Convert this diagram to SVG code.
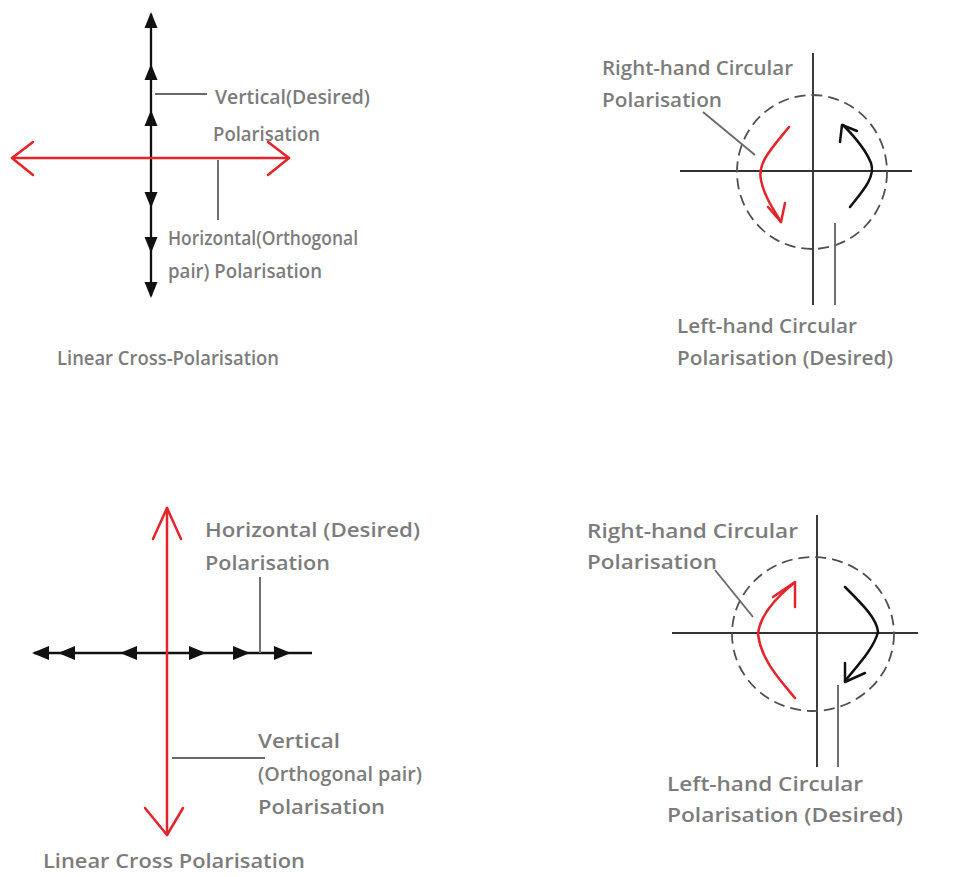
<svg xmlns="http://www.w3.org/2000/svg" xmlns:xlink="http://www.w3.org/1999/xlink" width="963" height="877" viewBox="0 0 963 877">
<style>
.lbl{font-family:"Open Sans","Noto Sans","Liberation Sans",sans-serif;font-weight:600;font-size:20.5px;fill:#7c7c7c}
.axis{stroke:#333;stroke-width:1.9;fill:none}
.lead{stroke:#6a6a6a;stroke-width:1.9;fill:none}
.red{stroke:#e3242b;stroke-width:2.5;fill:none;stroke-linecap:round;stroke-linejoin:round}
.blk{stroke:#111;stroke-width:2.5;fill:none;stroke-linecap:round;stroke-linejoin:round}
.dash{stroke:#505050;stroke-width:1.8;fill:none;stroke-dasharray:11 6}
.tri{fill:#111}
</style>
<defs>
<path id="up" d="M0,0 L6.5,16 L-6.5,16 Z"/>
<path id="dn" d="M0,0 L6.5,-16 L-6.5,-16 Z"/>
<path id="lt" d="M0,0 L17,-7 L17,7 Z"/>
<path id="rt" d="M0,0 L-17,-7 L-17,7 Z"/>
</defs>
<rect width="963" height="877" fill="#fff"/>

<!-- Top-left: Linear cross-polarisation -->
<g id="panel-tl">
  <g id="tl-vertical">
    <line class="axis" x1="151" y1="14" x2="151" y2="296" style="stroke:#111;stroke-width:2.3"/>
    <use href="#up" class="tri" x="151" y="12"/>
    <use href="#up" class="tri" x="151" y="64"/>
    <use href="#up" class="tri" x="151" y="110"/>
    <use href="#dn" class="tri" x="151" y="208"/>
    <use href="#dn" class="tri" x="151" y="253"/>
    <use href="#dn" class="tri" x="151" y="298"/>
  </g>
  <g id="tl-horizontal">
    <line class="red" x1="12" y1="158" x2="289" y2="158"/>
    <polyline class="red" points="33,142 12,158 33,175"/>
    <polyline class="red" points="268,142 289,158 268,175"/>
  </g>
  <g id="tl-labels">
    <line class="lead" x1="155" y1="94" x2="207" y2="94"/>
    <line class="lead" x1="218" y1="160" x2="218" y2="220"/>
    <text class="lbl" x="215" y="104" textLength="155" lengthAdjust="spacingAndGlyphs">Vertical(Desired)</text>
    <text class="lbl" x="213" y="141" textLength="107" lengthAdjust="spacingAndGlyphs">Polarisation</text>
    <text class="lbl" x="168" y="245" textLength="190" lengthAdjust="spacingAndGlyphs">Horizontal(Orthogonal</text>
    <text class="lbl" x="168" y="278" textLength="154" lengthAdjust="spacingAndGlyphs">pair) Polarisation</text>
    <text class="lbl" x="57" y="365" textLength="222" lengthAdjust="spacingAndGlyphs">Linear Cross-Polarisation</text>
  </g>
</g>

<!-- Top-right: circular -->
<g id="panel-tr">
  <line class="axis" x1="813" y1="53" x2="813" y2="305"/>
  <line class="axis" x1="680" y1="171" x2="912" y2="171"/>
  <ellipse class="dash" cx="812" cy="172" rx="75" ry="77"/>
  <g id="tr-red">
    <path class="red" d="M789,127 C772,148 757,163 761,180 C764,196 774,210 781,222"/>
    <polyline class="red" points="768,207 781,222 785,203"/>
  </g>
  <g id="tr-black">
    <path class="blk" d="M850,207 C862,192 876,177 871,163 C865,148 853,135 843,125"/>
    <polyline class="blk" points="840,142 842,125 857,131"/>
  </g>
  <line class="lead" x1="703" y1="112" x2="755" y2="155"/>
  <line class="lead" x1="835" y1="223" x2="835" y2="305"/>
  <text class="lbl" x="602" y="75" textLength="191" lengthAdjust="spacingAndGlyphs">Right-hand Circular</text>
  <text class="lbl" x="602" y="107" textLength="120" lengthAdjust="spacingAndGlyphs">Polarisation</text>
  <text class="lbl" x="677" y="333" textLength="180" lengthAdjust="spacingAndGlyphs">Left-hand Circular</text>
  <text class="lbl" x="677" y="365" textLength="216" lengthAdjust="spacingAndGlyphs">Polarisation (Desired)</text>
</g>

<!-- Bottom-left: Linear cross polarisation -->
<g id="panel-bl">
  <g id="bl-horizontal">
    <line class="axis" x1="34" y1="653" x2="312" y2="653" style="stroke:#111;stroke-width:2.3"/>
    <use href="#lt" class="tri" x="32" y="653"/>
    <use href="#lt" class="tri" x="58" y="653"/>
    <use href="#lt" class="tri" x="120" y="653"/>
    <use href="#rt" class="tri" x="206" y="653"/>
    <use href="#rt" class="tri" x="250" y="653"/>
    <use href="#rt" class="tri" x="291" y="653"/>
  </g>
  <g id="bl-vertical">
    <line class="red" x1="167" y1="508" x2="167" y2="835"/>
    <polyline class="red" points="153,539 167,508 181,539"/>
    <polyline class="red" points="145,808 167,835 183,808"/>
  </g>
  <g id="bl-labels">
    <line class="lead" x1="260" y1="577" x2="260" y2="653"/>
    <line class="lead" x1="172" y1="758" x2="265" y2="758"/>
    <text class="lbl" x="205" y="537" textLength="215" lengthAdjust="spacingAndGlyphs">Horizontal (Desired)</text>
    <text class="lbl" x="205" y="570" textLength="125" lengthAdjust="spacingAndGlyphs">Polarisation</text>
    <text class="lbl" x="258" y="748" textLength="82" lengthAdjust="spacingAndGlyphs">Vertical</text>
    <text class="lbl" x="258" y="781" textLength="164" lengthAdjust="spacingAndGlyphs">(Orthogonal pair)</text>
    <text class="lbl" x="258" y="814" textLength="127" lengthAdjust="spacingAndGlyphs">Polarisation</text>
    <text class="lbl" x="43" y="868" textLength="262" lengthAdjust="spacingAndGlyphs">Linear Cross Polarisation</text>
  </g>
</g>

<!-- Bottom-right: circular -->
<g id="panel-br">
  <line class="axis" x1="817" y1="515" x2="817" y2="767"/>
  <line class="axis" x1="672" y1="633" x2="918" y2="633"/>
  <ellipse class="dash" cx="813" cy="634" rx="81" ry="77"/>
  <g id="br-red">
    <path class="red" d="M795,698 C780,680 761,660 758,634 C760,614 778,596 794,583"/>
    <polyline class="red" points="773,597 795,582 795,607"/>
  </g>
  <g id="br-black">
    <path class="blk" d="M845,587 C860,602 877,618 878,632 C874,648 858,665 845,681"/>
    <polyline class="blk" points="845,663 845,682 865,673"/>
  </g>
  <line class="lead" x1="715" y1="570" x2="753" y2="617"/>
  <line class="lead" x1="838" y1="685" x2="838" y2="767"/>
  <text class="lbl" x="587" y="538" textLength="211" lengthAdjust="spacingAndGlyphs">Right-hand Circular</text>
  <text class="lbl" x="587" y="569" textLength="130" lengthAdjust="spacingAndGlyphs">Polarisation</text>
  <text class="lbl" x="667" y="791" textLength="196" lengthAdjust="spacingAndGlyphs">Left-hand Circular</text>
  <text class="lbl" x="667" y="822" textLength="236" lengthAdjust="spacingAndGlyphs">Polarisation (Desired)</text>
</g>
</svg>
